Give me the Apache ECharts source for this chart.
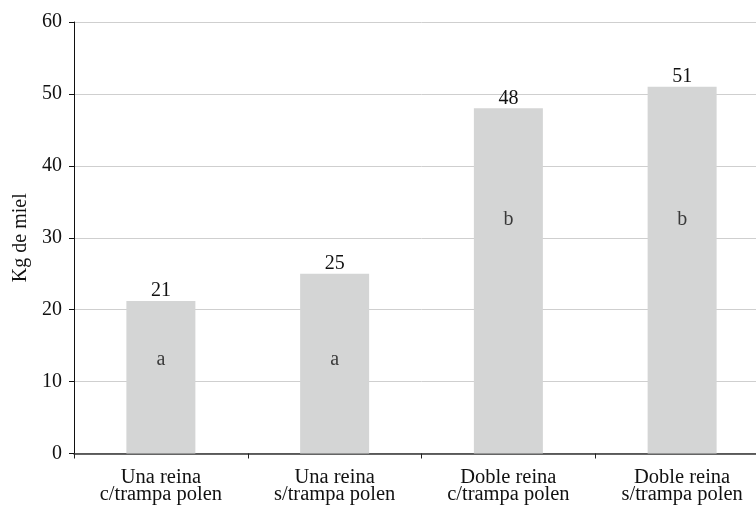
<!DOCTYPE html>
<html>
<head>
<meta charset="utf-8">
<script src="https://cdn.jsdelivr.net/npm/echarts@6/dist/echarts.min.js"></script>
<style>html,body{margin:0;padding:0;background:#fff;overflow:hidden}#c{width:769px;height:505px}</style>
</head>
<body>
<div id="c"></div>
<script>
var categories = ['Una reina\nc/trampa polen', 'Una reina\ns/trampa polen', 'Doble reina\nc/trampa polen', 'Doble reina\ns/trampa polen'];
var honeyKg = [21.2, 25, 48, 51];
var valueLabels = ['21', '25', '48', '51'];
var letters = ['a', 'a', 'b', 'b'];
var letterY = [13.0, 13.0, 32.5, 32.5];
var yTicks = [0, 10, 20, 30, 40, 50, 60];

var FONT = '"Liberation Serif", "DejaVu Serif", serif';
var chart = echarts.init(document.getElementById('c'), null, {renderer: 'canvas'});
chart.setOption({
  animation: false,
  backgroundColor: '#fff',
  grid: {left: 74, right: 0, top: 22, bottom: 48.5, containLabel: false},
  xAxis: {
    type: 'category',
    data: categories,
    axisLine: {lineStyle: {color: '#333', width: 1.5}},
    axisTick: {show: true, length: 5, lineStyle: {color: '#222'}},
    axisLabel: {color: '#111', fontFamily: FONT, fontSize: 20.5, lineHeight: 17, margin: 15.5}
  },
  yAxis: {
    type: 'value',
    min: yTicks[0], max: yTicks[yTicks.length - 1], interval: 10,
    name: 'Kg de miel', nameLocation: 'middle', nameGap: 39, nameRotate: 90,
    nameTextStyle: {color: '#111', fontFamily: FONT, fontSize: 20},
    axisLine: {show: true, lineStyle: {color: '#111', width: 1}},
    axisTick: {show: true, length: 5, lineStyle: {color: '#111'}},
    axisLabel: {color: '#111', fontFamily: FONT, fontSize: 20, margin: 12},
    splitLine: {lineStyle: {color: '#cfcfcf', width: 1}}
  },
  series: [
    {
      type: 'bar',
      data: honeyKg,
      barWidth: 69,
      itemStyle: {color: '#d4d5d5'},
      label: {show: true, position: 'top', distance: 0, color: '#111', fontFamily: FONT, fontSize: 20,
        formatter: function (p) { return valueLabels[p.dataIndex]; }},
      z: 2
    },
    {
      type: 'scatter',
      data: letterY,
      symbolSize: 1,
      itemStyle: {color: 'rgba(0,0,0,0)'},
      label: {show: true, position: 'inside', color: '#111', fontFamily: FONT, fontSize: 20,
        formatter: function (p) { return letters[p.dataIndex]; }},
      z: 3
    }
  ]
});
</script>
</body>
</html>
